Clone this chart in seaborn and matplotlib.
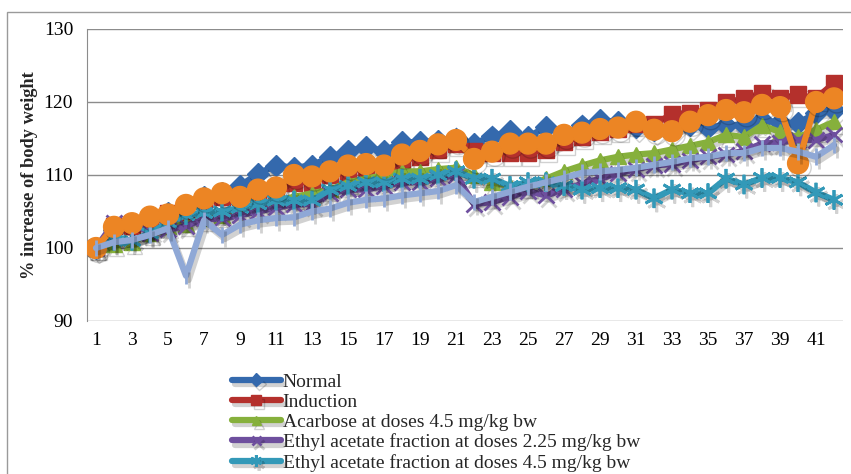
import numpy as np
import pandas as pd
import matplotlib
matplotlib.use("Agg")
import matplotlib.pyplot as plt
import matplotlib.patheffects as pe
import seaborn as sns

# day index on the category axis
days = list(range(1, 43))

normal = [100, 102.5, 103, 104, 104.8, 105.8, 107, 107.5, 108.5, 110.2, 111.3, 111, 111.3, 112.5,
          113.3, 113.8, 113.3, 114.5, 114.5, 114.7, 115, 114.3, 115.3, 116, 115.2, 116.6, 115.5, 116.8,
          117.5, 117.3, 116.6, 116.2, 116.3, 116.8, 116.5, 116.8, 116.8, 117.5, 117.2, 117.1, 118.5, 118.9]
induction = [100, 103, 103, 104, 104.8, 105, 106.5, 107, 107, 107.5, 108, 109, 109, 110,
             110.5, 111, 111, 112, 112.5, 113.5, 114.3, 113.3, 113, 113, 113, 113.5, 114.5, 115.3,
             116, 116.3, 117, 117, 118.3, 118.5, 118.9, 119.9, 120.5, 121.2, 120.5, 121, 120.5, 122.6]
acarbose = [100, 100.5, 100.8, 102, 103, 103.2, 104, 104.5, 105.5, 106, 106.5, 107, 107.5, 108,
            109, 109.5, 110, 110.5, 110.5, 110.8, 111, 110, 109, 108.5, 108.5, 109.5, 110.5, 111.3,
            112, 112.5, 112.8, 113, 113.5, 114, 114.5, 115.5, 115.2, 116.8, 115.9, 115.2, 116.2, 117.3]
ea_225 = [100, 103.5, 103.5, 102, 102.5, 103, 104, 104, 104.5, 105, 105.5, 106, 106, 107.5,
          108, 108, 108.5, 109, 109, 109.5, 110, 106, 106.3, 107, 107.8, 107.2, 108, 108.8,
          109.5, 110.2, 110.8, 111.3, 111.5, 112, 112.5, 112.8, 113.3, 114.3, 114.5, 114.8, 114.8, 115.5]
ea_45 = [100, 101, 101, 102, 103.5, 104.5, 104.8, 105, 105.5, 106, 106.5, 106.5, 106.5, 108,
         108.5, 109, 109, 109.5, 109.5, 110, 110.5, 109.5, 109.5, 108.5, 109, 109, 108.5, 108,
         108.2, 108.2, 108, 106.8, 108, 107.5, 107.5, 109.5, 108.7, 109.6, 109.6, 109, 107.6, 106.6]
orange_s = [100, 102.9, 103.4, 104.3, 104.6, 105.9, 106.8, 107.5, 107, 108, 108.3, 110, 109.8, 110.5,
            111.3, 111.5, 111.3, 112.8, 113.3, 114.2, 114.8, 112.2, 113.2, 114.3, 114.3, 114.3, 115.5, 115.8,
            116.3, 116.5, 117.3, 116.2, 116, 117.3, 118.2, 118.9, 118.6, 119.6, 119.3, 111.6, 120, 120.5]
lightblue_s = [100, 100.8, 101.1, 101.8, 102.7, 96.2, 103.8, 101.8, 103.2, 103.8, 104.1, 104.2, 105, 105.4,
               106.2, 106.6, 106.8, 107.2, 107.5, 107.8, 108.6, 106.3, 107, 107.7, 108.4, 109, 109.6, 110.3,
               110.5, 110.7, 111, 111.4, 111.8, 112.3, 112.5, 113, 113, 113.7, 113.7, 113.2, 112.5, 114.1]

labels = ["Normal", "Induction", "Acarbose at doses 4.5 mg/kg bw",
          "Ethyl acetate fraction at doses 2.25 mg/kg bw",
          "Ethyl acetate fraction at doses 4.5 mg/kg bw", "", ""]
series = [normal, induction, acarbose, ea_225, ea_45, orange_s, lightblue_s]
colors = ["#3469ad", "#b4302c", "#86b03c", "#6e4f9e", "#3399b8", "#ec8524", "#8fa8d6"]
markers = ["D", "s", "^", "x", (6, 2, 0), "o", "|"]
msizes = [11, 12, 11, 11, 14, 15, 12]

sns.set_style("white")
plt.rcParams["font.family"] = ["Liberation Serif", "DejaVu Serif"]

fig = plt.figure(figsize=(8.51, 4.74), dpi=100)
ax = fig.add_axes([87 / 851, 1 - 321 / 474, (843 - 87) / 851, (321 - 29) / 474])

# outer frame
fig.patches.append(plt.Rectangle((7 / 851, -0.1), 2, 1 - 12 / 474 + 0.1, transform=fig.transFigure,
                                 fill=False, edgecolor="#9a9a9a", linewidth=1))

shadow = [pe.SimpleLineShadow(offset=(2, -3), alpha=0.18, shadow_color="black"), pe.Normal()]
for i, (vals, lab) in enumerate(zip(series, labels)):
    df = pd.DataFrame({"day": days, "val": vals})
    thin = markers[i] in ("x", "|") or isinstance(markers[i], tuple)
    sns.lineplot(data=df, x="day", y="val", ax=ax, color=colors[i], linewidth=4.5,
                 marker=markers[i], markersize=msizes[i], markeredgecolor=colors[i],
                 markeredgewidth=2 if thin else 1,
                 label=lab if lab else "_nolegend_", legend=False, zorder=3 + i,
                 path_effects=shadow)

ax.set_ylim(90, 130)
ax.set_yticks([90, 100, 110, 120, 130])
ax.set_xlim(0.5, 42.5)
ax.set_xticks(days[::2])
ax.set_xticklabels([str(d) for d in days[::2]])
ax.yaxis.grid(True, color="#8c8c8c", linewidth=1)
ax.xaxis.grid(False)
for s in ["top", "right", "bottom"]:
    ax.spines[s].set_visible(False)
ax.spines["left"].set_color("#8c8c8c")
ax.tick_params(axis="both", length=0, labelsize=14, colors="black")
ax.tick_params(axis="y", pad=10)
ax.tick_params(axis="x", pad=8)
ax.set_xlabel("")
ax.set_ylabel("% increase of body weight", fontsize=13.2, fontweight="bold", labelpad=4)

handles, lbls = ax.get_legend_handles_labels()
fig.legend(handles[:5], lbls[:5], loc="upper left", bbox_to_anchor=(232 / 851, 1 - 373 / 474),
           frameon=False, fontsize=14, handlelength=2.5, handletextpad=0.1, labelspacing=0.13,
           borderpad=0, borderaxespad=0, markerscale=0.6)

fig.savefig("out.png", dpi=100)
